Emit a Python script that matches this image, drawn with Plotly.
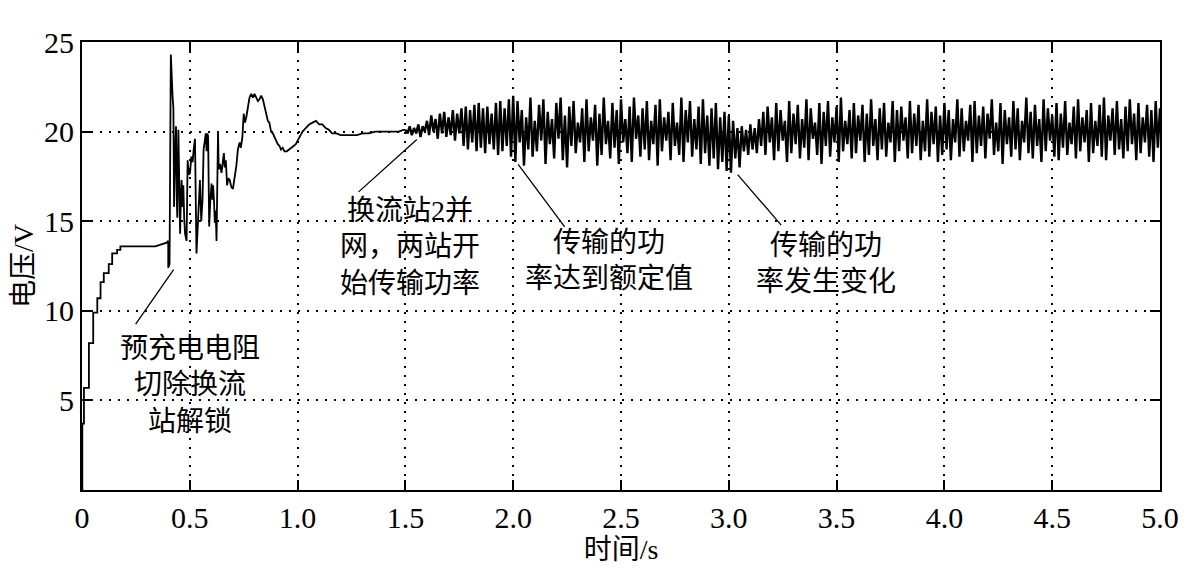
import numpy as np
import plotly.graph_objects as go

# ---------------- data ----------------
# start-up (pre-charge) staircase, s / V
pre_t = [0.000, 0.0015, 0.0015, 0.009, 0.009, 0.032, 0.032, 0.052, 0.052, 0.071, 0.071,
         0.086, 0.086, 0.101, 0.101, 0.124, 0.124, 0.140, 0.140, 0.163, 0.163, 0.178,
         0.178, 0.340, 0.393, 0.400, 0.400, 0.406]
pre_v = [0.0, 0.0, 3.7, 3.7, 5.7, 5.7, 8.2, 8.2, 9.9, 9.9, 10.7,
         10.7, 11.6, 11.6, 12.1, 12.1, 12.6, 12.6, 13.2, 13.2, 13.4, 13.4,
         13.6, 13.6, 13.8, 13.9, 12.4, 12.6]

# transient after deblocking, s / V
tr_t = [0.412, 0.416, 0.420, 0.424, 0.427, 0.432, 0.436, 0.440, 0.442, 0.447, 0.451, 0.455,
        0.459, 0.462, 0.466, 0.470, 0.474, 0.478, 0.485, 0.490, 0.495, 0.501, 0.507, 0.513,
        0.518, 0.524, 0.531, 0.535, 0.539, 0.543, 0.547, 0.553, 0.559, 0.564, 0.570, 0.574,
        0.578, 0.582, 0.585, 0.590, 0.595, 0.601, 0.605, 0.608, 0.612, 0.616, 0.620, 0.624,
        0.631, 0.634, 0.640, 0.647, 0.652, 0.658, 0.662, 0.667, 0.673, 0.679, 0.685, 0.693,
        0.700, 0.708, 0.716, 0.723, 0.731, 0.737, 0.744, 0.750, 0.756, 0.762, 0.770, 0.777,
        0.785, 0.793, 0.800, 0.808, 0.816, 0.823, 0.831, 0.839, 0.847, 0.854, 0.862, 0.869,
        0.877, 0.885, 0.893, 0.900, 0.908, 0.916, 0.923, 0.931, 0.939, 0.950, 0.962, 0.973,
        0.985, 0.992, 1.000, 1.012, 1.023, 1.038, 1.054, 1.069, 1.085, 1.100, 1.115, 1.130,
        1.145, 1.160, 1.180, 1.200, 1.225, 1.250, 1.275, 1.300, 1.330, 1.360, 1.390, 1.420,
        1.445, 1.470, 1.490]
tr_v = [24.3, 22.3, 22.0, 21.3, 15.8, 19.0, 20.3, 16.0, 15.2, 20.1, 15.0, 14.3,
        16.5, 17.3, 15.8, 17.0, 15.2, 14.3, 13.9, 18.4, 17.6, 17.7, 18.6, 18.3,
        19.0, 19.6, 13.2, 14.4, 14.7, 16.8, 17.3, 15.0, 16.2, 19.0, 19.5, 19.9,
        18.9, 19.9, 19.7, 14.7, 16.1, 17.1, 16.2, 17.0, 16.2, 14.9, 15.6, 13.9,
        20.0, 17.9, 18.2, 17.7, 18.2, 18.8, 18.0, 18.4, 17.0, 17.4, 17.3, 16.9,
        16.8, 17.4, 18.1, 19.0, 19.4, 19.1, 19.7, 21.0, 20.5, 20.8, 21.5, 21.9,
        22.1, 21.9, 22.1, 21.9, 21.7, 21.8, 22.0, 21.8, 21.4, 21.0, 20.6, 20.5,
        20.0, 19.9, 19.7, 19.5, 19.3, 19.2, 19.0, 19.1, 18.9, 18.9, 19.0, 19.1,
        19.2, 19.3, 19.5, 19.8, 20.0, 20.2, 20.4, 20.5, 20.6, 20.4, 20.4, 20.2,
        20.1, 19.9, 19.9, 19.8, 19.8, 19.8, 19.8, 19.9, 19.9, 20.0, 20.0, 20.0,
        20.0, 20.0, 20.1]

# oscillating steady state, sampled every 0.01 s from 1.50 s (V)
osc_a = [20.1, 19.9, 20.3, 19.8, 20.2, 19.9, 20.4, 19.7, 20.3, 20.0,
         20.6, 19.8, 20.9, 20.0, 20.7, 19.6, 21.0, 19.9, 21.1, 19.7,
         20.8, 19.8, 21.2, 19.5, 21.0, 19.9, 21.3, 19.2, 21.4, 19.0,
         21.2, 19.4, 21.5, 18.9, 21.6, 19.1, 21.3, 18.8, 21.4, 19.3,
         21.0, 19.0, 21.6, 18.7, 21.7, 18.9, 21.3, 19.2, 21.8, 18.6]
osc_b = [22.0, 18.3, 21.7, 19.4, 21.2, 18.1, 20.8, 19.0, 21.9, 18.6,
         20.6, 18.9, 21.5, 19.5, 21.8, 18.2, 21.1, 19.3, 20.7, 18.5,
         21.6, 19.6, 21.9, 18.4, 20.9, 18.0, 21.4, 19.2, 21.7, 18.8,
         20.5, 19.4, 21.3, 18.3, 21.8, 18.9, 20.8, 19.5, 21.5, 18.1,
         21.0, 18.7, 21.9, 19.3, 20.6, 18.5, 21.6, 19.1, 21.2, 18.2,
         21.8, 19.4, 20.7, 18.8, 21.4, 18.3, 21.9, 19.6, 20.9, 18.6,
         21.3, 19.0, 21.7, 18.4, 20.6, 19.3, 21.5, 18.1, 21.8, 18.9,
         20.8, 19.5, 21.1, 18.4, 21.6, 19.2, 20.5, 18.7, 21.9, 18.3,
         21.2, 19.4, 21.7, 18.6, 20.7, 19.0, 21.4, 18.2, 21.8, 18.8,
         20.9, 18.1, 21.3, 18.5, 21.6, 17.9, 20.8, 18.3, 21.1, 17.8]
osc_c = [20.9, 17.7, 20.6, 18.5, 20.2, 18.0, 20.3, 18.9, 20.1, 18.7,
         20.4, 19.0, 20.2, 18.8, 20.7, 19.2, 21.1, 18.7, 21.4, 19.4,
         20.8, 18.4, 21.6, 18.9, 21.2, 19.5, 20.6, 18.3, 21.7, 18.8,
         21.0, 19.3, 21.5, 18.5, 20.7, 19.1, 21.8, 18.4, 21.3, 19.6,
         20.5, 18.7, 21.6, 18.2, 21.1, 19.2, 21.7, 18.6, 20.8, 19.4,
         21.4, 18.3, 21.9, 18.9, 20.6, 19.3, 21.2, 18.5, 21.6, 18.8,
         20.9, 19.5, 21.5, 18.3, 21.0, 18.7, 21.8, 19.2, 20.7, 18.4,
         21.3, 19.0, 21.6, 18.6, 20.5, 19.4, 21.7, 18.3, 21.2, 18.9,
         21.4, 19.5, 20.8, 18.5, 21.7, 18.8, 21.0, 19.2, 21.5, 18.4,
         20.6, 18.9, 21.8, 18.6, 21.1, 19.3, 21.4, 18.3, 20.9, 18.7]
osc_d = [21.6, 19.0, 21.2, 18.4, 20.7, 19.4, 21.8, 18.6, 21.3, 18.9,
         20.6, 19.5, 21.5, 18.3, 21.7, 18.8, 20.9, 19.2, 21.4, 18.5,
         21.0, 19.6, 21.8, 18.7, 20.5, 18.9, 21.6, 18.2, 21.2, 19.3,
         20.8, 18.6, 21.7, 19.0, 21.3, 18.4, 20.6, 19.4, 21.9, 18.8,
         21.1, 18.5, 21.5, 19.2, 20.7, 18.3, 21.8, 18.9, 21.3, 19.5,
         20.9, 18.6, 21.6, 18.4, 21.0, 19.1, 21.7, 18.7, 20.5, 19.3,
         21.4, 18.5, 21.8, 18.9, 20.8, 19.4, 21.2, 18.3, 21.6, 18.8,
         20.6, 19.2, 21.5, 18.6, 21.9, 18.4, 20.9, 19.5, 21.3, 18.7,
         21.7, 19.0, 20.7, 18.5, 21.4, 18.9, 21.8, 19.3, 21.0, 18.4,
         21.6, 18.8, 20.8, 19.4, 21.5, 18.6, 21.2, 18.3, 21.7, 19.1,
         21.3]
osc_start = 1.50
osc_step = 0.01

x_ticks = [0, 0.5, 1.0, 1.5, 2.0, 2.5, 3.0, 3.5, 4.0, 4.5, 5.0]
x_tick_text = ["0", "0.5", "1.0", "1.5", "2.0", "2.5", "3.0", "3.5", "4.0", "4.5", "5.0"]
y_ticks = [5, 10, 15, 20, 25]
y_tick_text = ["5", "10", "15", "20", "25"]

notes = ["预充电电阻<br>切除换流<br>站解锁",
         "换流站2并<br>网，两站开<br>始传输功率",
         "传输的功<br>率达到额定值",
         "传输的功<br>率发生变化"]
note_text_xy = [(0.502, 5.85), (1.521, 13.55), (2.442, 12.78), (3.452, 12.64)]
note_tail_xy = [(0.244, 9.17), (1.276, 16.56), (2.244, 14.6), (3.249, 14.7)]
note_head_xy = [(0.425, 12.3), (1.553, 19.56), (2.023, 18.17), (3.041, 17.6)]

# ---------------- build ----------------
osc_v = osc_a + osc_b + osc_c + osc_d
osc_t = list(np.round(osc_start + osc_step * np.arange(len(osc_v)), 3))

t_early = pre_t + tr_t + osc_t[:1]
v_early = pre_v + tr_v + osc_v[:1]

FONT = "Liberation Serif, Noto Sans CJK SC, serif"

fig = go.Figure()
fig.add_trace(go.Scatter(x=t_early, y=v_early, mode="lines",
                         line=dict(color="black", width=1.8),
                         showlegend=False, hoverinfo="skip"))
fig.add_trace(go.Scatter(x=osc_t, y=osc_v, mode="lines",
                         line=dict(color="black", width=2.4),
                         showlegend=False, hoverinfo="skip"))

annotations = []
for txt, (tx, ty) in zip(notes, note_text_xy):
    annotations.append(dict(x=tx, y=ty, xref="x", yref="y", text=txt, showarrow=False,
                            font=dict(family=FONT, size=28, color="black"),
                            align="center", xanchor="center", yanchor="middle"))
for (ax_, ay_), (hx, hy) in zip(note_tail_xy, note_head_xy):
    annotations.append(dict(x=hx, y=hy, xref="x", yref="y", ax=ax_, ay=ay_,
                            axref="x", ayref="y", text="", showarrow=True,
                            arrowhead=0, arrowwidth=1.3, arrowcolor="black",
                            standoff=0, startstandoff=0))

GRID_DASH = "2px,7px"

fig.update_layout(
    width=1191, height=578,
    margin=dict(l=70, r=39, t=34, b=96),
    paper_bgcolor="white", plot_bgcolor="white",
    font=dict(family=FONT, size=30, color="black"),
    annotations=annotations,
    xaxis=dict(range=[0, 5], tickvals=x_ticks, ticktext=x_tick_text,
               showline=True, linecolor="black", linewidth=2, mirror="ticks",
               ticks="inside", ticklen=10, tickcolor="black", tickwidth=1.5,
               showgrid=True, gridcolor="black", griddash=GRID_DASH, gridwidth=1.5,
               zeroline=False, tickfont=dict(family=FONT, size=30),
               title=dict(text="时间/s", font=dict(family=FONT, size=28), standoff=0)),
    yaxis=dict(range=[0, 25], tickvals=y_ticks, ticktext=y_tick_text,
               showline=True, linecolor="black", linewidth=2, mirror="ticks",
               ticks="inside", ticklen=10, tickcolor="black", tickwidth=1.5,
               showgrid=True, gridcolor="black", griddash=GRID_DASH, gridwidth=1.5,
               zeroline=False, tickfont=dict(family=FONT, size=30),
               title=dict(text="电压/V", font=dict(family=FONT, size=28), standoff=4)),
)

fig.write_html("out.html")
